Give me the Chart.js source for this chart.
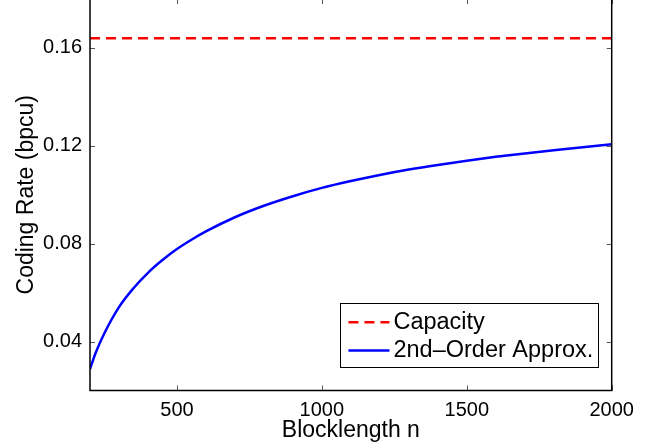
<!DOCTYPE html>
<html>
<head>
<meta charset="utf-8">
<script src="https://cdn.jsdelivr.net/npm/chart.js@4.4.1/dist/chart.umd.min.js"></script>
<style>
  html, body { margin: 0; padding: 0; background: #fff; overflow: hidden; }
  #chart { position: absolute; left: 0; top: -1px; }
</style>
</head>
<body>
<canvas id="chart" width="658" height="449"></canvas>
<script>
// values
const blocklengths = [200, 220, 250, 300, 350, 400, 450, 500, 550, 600, 700, 800, 900,
  1000, 1100, 1200, 1300, 1400, 1500, 1600, 1700, 1800, 1900, 2000]
const approxRate = [0.0288, 0.0355, 0.0435, 0.0541, 0.0618, 0.0681, 0.0733, 0.0778, 0.0816,
  0.0850, 0.0908, 0.0955, 0.0994, 0.1028, 0.1056, 0.1081, 0.1103, 0.1122, 0.1139, 0.1155,
  0.1169, 0.1182, 0.1194, 0.1206]
const capacityN = [200, 2000]
const capacityRate = [0.164, 0.164]
const xTicks = [500, 1000, 1500, 2000]
const yTicks = [0.04, 0.08, 0.12, 0.16]

const FONT = '"Liberation Sans", Arial, Helvetica, sans-serif'
const toPoints = (xs, ys) => xs.map((x, i) => ({ x, y: ys[i] }))

// matlab style box with inward ticks on all four sides
const axesBox = {
  id: 'axesBox',
  afterDatasetsDraw(chart) {
    const { ctx, chartArea: a, scales: { x, y } } = chart
    const len = 5
    ctx.save()
    ctx.strokeStyle = '#555'
    ctx.lineWidth = 1
    ctx.beginPath()
    xTicks.forEach((v) => {
      const px = Math.round(x.getPixelForValue(v)) + 0.5
      ctx.moveTo(px, a.bottom); ctx.lineTo(px, a.bottom - len)
      ctx.moveTo(px, a.top); ctx.lineTo(px, a.top + len)
    })
    yTicks.forEach((v) => {
      const py = Math.round(y.getPixelForValue(v)) + 0.5
      ctx.moveTo(a.left, py); ctx.lineTo(a.left + len, py)
      ctx.moveTo(a.right, py); ctx.lineTo(a.right - len, py)
    })
    ctx.stroke()
    ctx.strokeStyle = '#000'
    ctx.lineWidth = 1.5
    ctx.strokeRect(a.left, a.top, a.right - a.left, a.bottom - a.top)
    ctx.restore()
  },
}

// legend box in the lower right of the plot
const boxLegend = {
  id: 'boxLegend',
  afterDraw(chart) {
    const { ctx, chartArea: a } = chart
    const sets = chart.data.datasets
    ctx.save()
    ctx.font = `23.5px ${FONT}`
    const textW = Math.max(...sets.map((d) => ctx.measureText(d.label).width))
    const lineLen = 41
    const w = 8 + lineLen + 4 + textW + 5
    const rowH = 28.3
    const h = 64
    const right = a.right - 13.4
    const bottom = a.bottom - 23.2
    const left = right - w
    const top = bottom - h
    ctx.fillStyle = '#fff'
    ctx.fillRect(left, top, w, h)
    ctx.strokeStyle = '#000'
    ctx.lineWidth = 1
    ctx.strokeRect(Math.round(left) + 0.5, Math.round(top) + 0.5, Math.round(w), Math.round(h))
    sets.forEach((d, i) => {
      const cy = top + 19 + i * rowH
      ctx.strokeStyle = d.borderColor
      ctx.lineWidth = d.borderWidth
      ctx.setLineDash(d.borderDash || [])
      ctx.beginPath()
      ctx.moveTo(left + 8, cy)
      ctx.lineTo(left + 8 + lineLen, cy)
      ctx.stroke()
      ctx.setLineDash([])
      ctx.fillStyle = '#000'
      ctx.textBaseline = 'middle'
      ctx.textAlign = 'left'
      ctx.fillText(d.label, left + 8 + lineLen + 4, cy)
    })
    ctx.restore()
  },
}

new Chart(document.getElementById('chart'), {
  type: 'line',
  data: {
    datasets: [
      {
        label: 'Capacity',
        data: toPoints(capacityN, capacityRate),
        borderColor: '#ff0000',
        borderWidth: 2.5,
        borderDash: [10, 6],
        pointRadius: 0,
      },
      {
        label: '2nd\u2013Order Approx.',
        data: toPoints(blocklengths, approxRate),
        borderColor: '#0000ff',
        borderWidth: 2.5,
        pointRadius: 0,
        cubicInterpolationMode: 'monotone',
      },
    ],
  },
  options: {
    responsive: false,
    animation: false,
    layout: { padding: { left: 0, right: 46.3, top: 0, bottom: 0 } },
    plugins: { legend: { display: false }, tooltip: { enabled: false } },
    scales: {
      x: {
        type: 'linear',
        min: 200,
        max: 2000,
        grid: { display: false, drawTicks: false },
        border: { display: false },
        afterBuildTicks: (s) => { s.ticks = xTicks.map((value) => ({ value })) },
        afterFit: (s) => {
          s.height = 57.5
          s.paddingLeft = 0
          s.paddingRight = 0
        },
        ticks: {
          color: '#000',
          font: { family: FONT, size: 20 },
          padding: 8,
          callback: (v) => String(v),
        },
        title: {
          display: true,
          text: 'Blocklength n',
          color: '#000',
          font: { family: FONT, size: 23 },
          padding: { top: 0, bottom: 4 },
        },
      },
      y: {
        min: 0.02,
        max: 0.18,
        grid: { display: false, drawTicks: false },
        border: { display: false },
        afterBuildTicks: (s) => { s.ticks = yTicks.map((value) => ({ value })) },
        afterFit: (s) => {
          s.width = 90
          s.paddingTop = 0
          s.paddingBottom = 0
        },
        ticks: {
          color: '#000',
          font: { family: FONT, size: 20 },
          padding: 8,
          callback: (v) => v.toFixed(2),
        },
        title: {
          display: true,
          text: 'Coding Rate (bpcu)',
          color: '#000',
          font: { family: FONT, size: 23 },
          padding: { top: 13, bottom: 0 },
        },
      },
    },
  },
  plugins: [axesBox, boxLegend],
})
</script>
</body>
</html>
